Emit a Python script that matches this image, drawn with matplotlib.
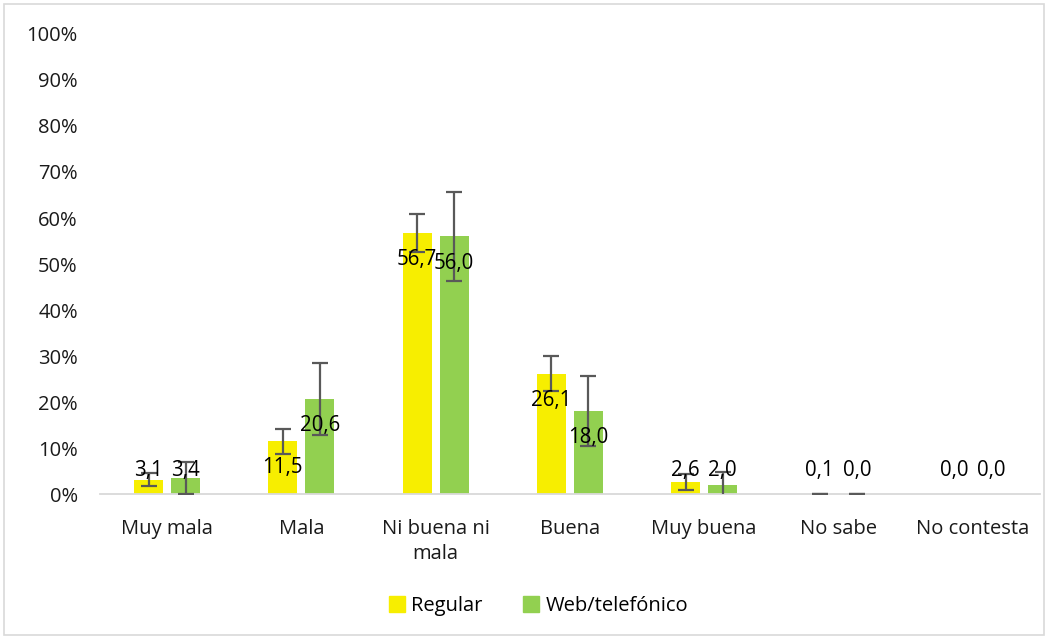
import numpy as np
import matplotlib
matplotlib.use('Agg')
import matplotlib.pyplot as plt
from matplotlib.patches import Rectangle
from matplotlib.lines import Line2D

plt.rcParams['font.family'] = ['Open Sans', 'DejaVu Sans']

# ── datos ──
categorias = ['Muy mala', 'Mala', 'Ni buena ni\nmala', 'Buena', 'Muy buena', 'No sabe', 'No contesta']
regular = [3.1, 11.5, 56.7, 26.1, 2.6, 0.1, 0.0]
web = [3.4, 20.6, 56.0, 18.0, 2.0, 0.0, 0.0]
err_regular = [1.4, 2.7, 4.1, 3.8, 1.7, 0.0, np.nan]
err_web = [3.5, 7.8, 9.7, 7.6, 2.8, 0.0, np.nan]
series = ['Regular', 'Web/telefónico']

AMARILLO = '#F7EE00'
VERDE = '#92D050'
GRIS = '#595959'

fig = plt.figure(figsize=(10.48, 6.39), dpi=100)
ax = fig.add_axes([0.0954, 0.2269, 0.8966, 0.7199])

x = np.arange(len(categorias))
off, w = 0.138, 0.216

for vals, errs, col, dx in [(regular, err_regular, AMARILLO, -off), (web, err_web, VERDE, off)]:
    ax.bar(x + dx, vals, width=w, color=col, zorder=2)
    e = np.array(errs, dtype=float)
    ok = ~np.isnan(e)
    ax.errorbar((x + dx)[ok], np.array(vals)[ok], yerr=e[ok], fmt='none',
                ecolor=GRIS, elinewidth=1.6, capsize=6, capthick=1.6, zorder=3)
    for xi, v in zip(x + dx, vals):
        ax.text(xi, max(v - 5.8, 5.2), f'{v:.1f}'.replace('.', ','),
                ha='center', va='center', fontsize=14.8, color='black', zorder=4)

ax.set_xlim(-0.5, len(categorias) - 0.5)
ax.set_ylim(0, 100)
ax.set_yticks(range(0, 101, 10))
ax.set_yticklabels([f'{t}%' for t in range(0, 101, 10)], fontsize=14.5, color='#1a1a1a')
ax.set_xticks(x)
ax.set_xticklabels(categorias, fontsize=14.5, color='#1a1a1a', linespacing=1.3)
ax.tick_params(axis='both', length=0)
ax.tick_params(axis='y', pad=16)
ax.tick_params(axis='x', pad=18)
for s in ['top', 'right', 'left']:
    ax.spines[s].set_visible(False)
ax.spines['bottom'].set_color('#D9D9D9')
ax.spines['bottom'].set_linewidth(1.3)

handles = [Line2D([0], [0], marker='s', color='none', markerfacecolor=c, markeredgecolor=c,
                  markersize=11, label=l) for c, l in zip([AMARILLO, VERDE], series)]
fig.legend(handles=handles, loc='center', bbox_to_anchor=(0.512, 0.051), ncol=2, frameon=False,
           fontsize=14.5, handletextpad=0.1, columnspacing=1.8, handlelength=1.2)

fig.add_artist(Rectangle((0.004, 0.006), 0.992, 0.988, transform=fig.transFigure,
                         fill=False, edgecolor='#D9D9D9', linewidth=1.2))

fig.savefig('out.png', dpi=100)
